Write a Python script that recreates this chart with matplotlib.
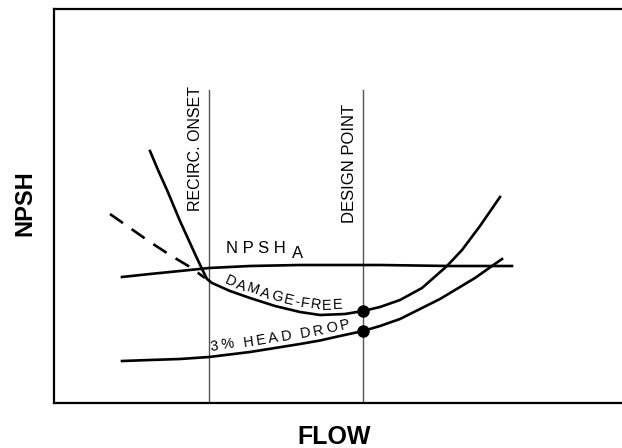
import numpy as np
import matplotlib
matplotlib.use("Agg")
import matplotlib.pyplot as plt
from matplotlib.textpath import TextToPath
from matplotlib.font_manager import FontProperties

# flow / npsh in arbitrary units
damage_flow = [96, 104, 113, 126, 141, 149, 153, 158, 176, 196, 221, 246, 266, 291, 309, 326, 346, 368, 393, 408, 426, 446]
damage_npsh = [252, 233, 213, 182, 149, 132, 124, 120, 112, 105, 97, 91, 88, 89, 92, 96, 103, 115, 137, 153, 177, 206]

dash_flow = [56, 76, 96, 116, 136, 151]
dash_npsh = [189, 175, 161, 148, 136, 125]

npsha_flow = [68, 96, 126, 155, 196, 246, 326, 396, 458]
npsha_npsh = [126, 129, 132, 135, 137, 138, 138, 137, 137]

drop_flow = [68, 96, 126, 155, 196, 246, 266, 286, 309, 326, 346, 368, 386, 401, 421, 438, 448]
drop_npsh = [42, 43, 44, 46, 51, 59, 62.5, 67, 72, 77, 84, 95, 104, 113, 125, 137, 144]

recirc_flow = 155
design_flow = 309
marker_top = 313
design_pts = [92, 72]

plt.rcParams['font.family'] = ['Liberation Sans', 'DejaVu Sans']


def curved_text(ax, text, xs, ys, x0, x1, offset, size):
    # place characters one by one along the curve, between x0 and x1
    xs = np.asarray(xs, float)
    ys = np.asarray(ys, float)
    seg = np.hypot(np.diff(xs), np.diff(ys))
    s = np.concatenate([[0], np.cumsum(seg)])
    s0 = np.interp(x0, xs, s)
    s1 = np.interp(x1, xs, s)
    prop = FontProperties(family='Liberation Sans', size=size)
    t2p = TextToPath()
    px = size / 72 * 100
    widths = []
    for ch in text:
        if ch == ' ':
            widths.append(0.28 * px)
        else:
            w = t2p.get_text_width_height_descent(ch, prop, ismath=False)[0]
            widths.append(w / 72 * 100)
    widths = np.array(widths)
    centers = np.cumsum(widths) - widths / 2
    centers = centers - centers[0]
    track = ((s1 - s0) - centers[-1]) / (len(text) - 1)
    centers = centers + track * np.arange(len(text))
    for ch, c in zip(text, centers):
        si = s0 + c
        x = np.interp(si, s, xs)
        y = np.interp(si, s, ys)
        dx = np.interp(si + 3, s, xs) - np.interp(si - 3, s, xs)
        dy = np.interp(si + 3, s, ys) - np.interp(si - 3, s, ys)
        ang = np.degrees(np.arctan2(dy, dx))
        nx, ny = -dy, dx
        n = np.hypot(nx, ny)
        ax.text(x + offset * nx / n, y + offset * ny / n, ch, rotation=ang,
                rotation_mode='anchor', ha='center', va='center', fontsize=size)


fig = plt.figure(figsize=(6.22, 4.48), dpi=100)
ax = fig.add_axes([54 / 622, 45 / 448, 568 / 622, 394 / 448])
ax.set_xlim(0, 568)
ax.set_ylim(0, 394)
ax.set_xticks([])
ax.set_yticks([])
ax.spines['right'].set_visible(False)
for sp in ['left', 'top', 'bottom']:
    ax.spines[sp].set_linewidth(1.6)

ax.plot([recirc_flow, recirc_flow], [0, marker_top], color='#555555', lw=1)
ax.plot([design_flow, design_flow], [0, marker_top], color='#555555', lw=1)

ax.plot(damage_flow, damage_npsh, color='black', lw=1.9)
ax.plot(dash_flow, dash_npsh, color='black', lw=1.9, dashes=(6, 4))
ax.plot(npsha_flow, npsha_npsh, color='black', lw=1.9)
ax.plot(drop_flow, drop_npsh, color='black', lw=1.9)
ax.plot([design_flow] * 2, design_pts, 'o', color='black', ms=8)

ax.text(recirc_flow - 14, 255, 'RECIRC. ONSET', rotation=90, ha='center', va='center', fontsize=11.5)
ax.text(design_flow - 14, 240, 'DESIGN POINT', rotation=90, ha='center', va='center', fontsize=12)

ax.text(172, 155, 'N P S H', ha='left', va='center', fontsize=12)
ax.text(244, 150, 'A', ha='center', va='center', fontsize=12)

curved_text(ax, 'DAMAGE-FREE', damage_flow[6:], damage_npsh[6:], 173, 284, 9, 10.5)
curved_text(ax, '3% HEAD DROP', drop_flow, drop_npsh, 161, 293, 10, 10.5)

fig.text(25 / 622, 1 - 203 / 448, 'NPSH', rotation=90, ha='center', va='center',
         fontsize=17, fontweight='bold')
fig.text(334 / 622, 1 - 437 / 448, 'FLOW', ha='center', va='center',
         fontsize=18, fontweight='bold')

fig.savefig('out.png', dpi=100)
